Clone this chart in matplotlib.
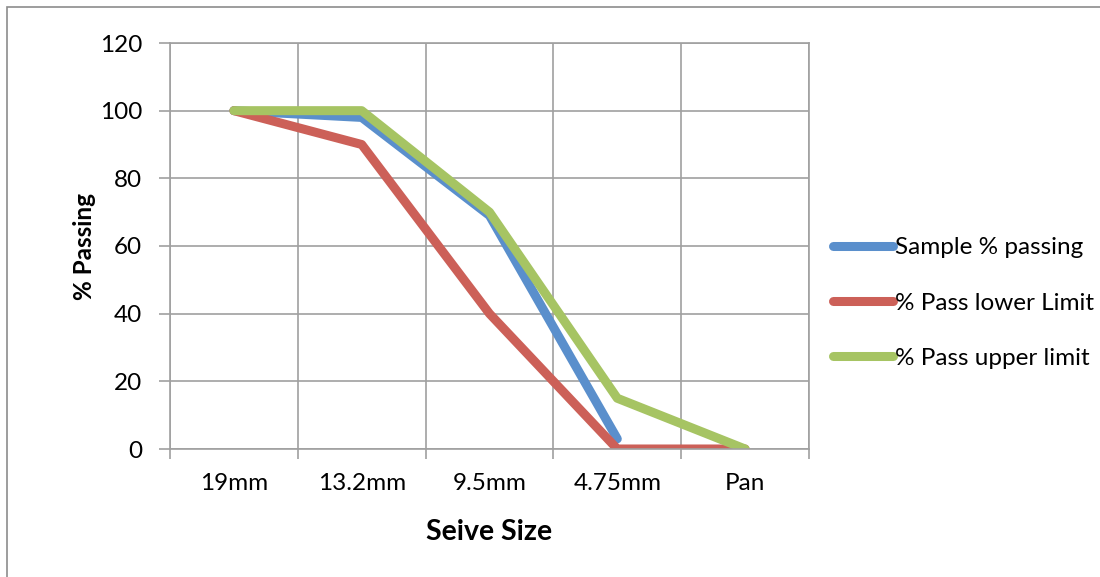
import numpy as np
import matplotlib
matplotlib.use('Agg')
import matplotlib.pyplot as plt
from matplotlib.patches import Rectangle

sizes = ['19mm', '13.2mm', '9.5mm', '4.75mm', 'Pan']
sample_passing = [100, 98, 69, 3, np.nan]
lower_limit = [100, 90, 40, 0, 0]
upper_limit = [100, 100, 70, 15, 0]
y_ticks = [0, 20, 40, 60, 80, 100, 120]

plt.rcParams['font.family'] = ['Lato', 'DejaVu Sans']
grid_col = '#a0a0a0'
fs = 17.5

fig = plt.figure(figsize=(11, 5.77), dpi=100)
# chart border (left and top edges visible)
fig.patches.append(Rectangle((7 / 1100, -0.1), 1.2, 1 - 7 / 577 + 0.1,
                             transform=fig.transFigure, fill=False,
                             edgecolor='#8c8c8c', linewidth=1.2))

ax = fig.add_axes([170 / 1100, 1 - 449 / 577, 639 / 1100, 406 / 577])
x = np.arange(len(sizes))

ax.plot(x, sample_passing, color='#5A8FCC', lw=6.5, solid_capstyle='round',
        solid_joinstyle='round', label='Sample % passing')
ax.plot(x, lower_limit, color='#CC6058', lw=6.5, solid_capstyle='round',
        solid_joinstyle='round', label='% Pass lower Limit')
ax.plot(x, upper_limit, color='#A6C463', lw=6.5, solid_capstyle='round',
        solid_joinstyle='round', label='% Pass upper limit')

ax.set_xlim(-0.5, len(sizes) - 0.5)
ax.set_ylim(0, 120)
ax.set_yticks(y_ticks)
ax.set_xticks(np.arange(len(sizes) + 1) - 0.5)
ax.set_xticklabels([])
ax.set_xticks(x, minor=True)
ax.set_xticklabels(sizes, minor=True, fontsize=fs)
ax.tick_params(axis='x', which='minor', length=0, pad=17)
ax.tick_params(axis='x', which='major', length=7, color=grid_col, width=1.2)
ax.tick_params(axis='y', length=8, color=grid_col, width=1.2, labelsize=fs, pad=12)
ax.grid(True, which='major', color=grid_col, linewidth=1.2)
ax.set_axisbelow(True)
for s in ax.spines.values():
    s.set_color(grid_col)
    s.set_linewidth(1.2)

ax.set_xlabel('Seive Size', fontsize=20.5, fontweight='bold', labelpad=18)
ax.set_ylabel('% Passing', fontsize=17.5, fontweight='bold', labelpad=3)

leg = ax.legend(loc='center left', bbox_to_anchor=(823 / 1100, 1 - 303 / 577),
                bbox_transform=fig.transFigure, borderaxespad=0, frameon=False,
                fontsize=fs, handlelength=2.5, handletextpad=0.05, labelspacing=1.4)
for h in leg.get_lines():
    h.set_solid_capstyle('round')

fig.savefig('out.png', dpi=100)
